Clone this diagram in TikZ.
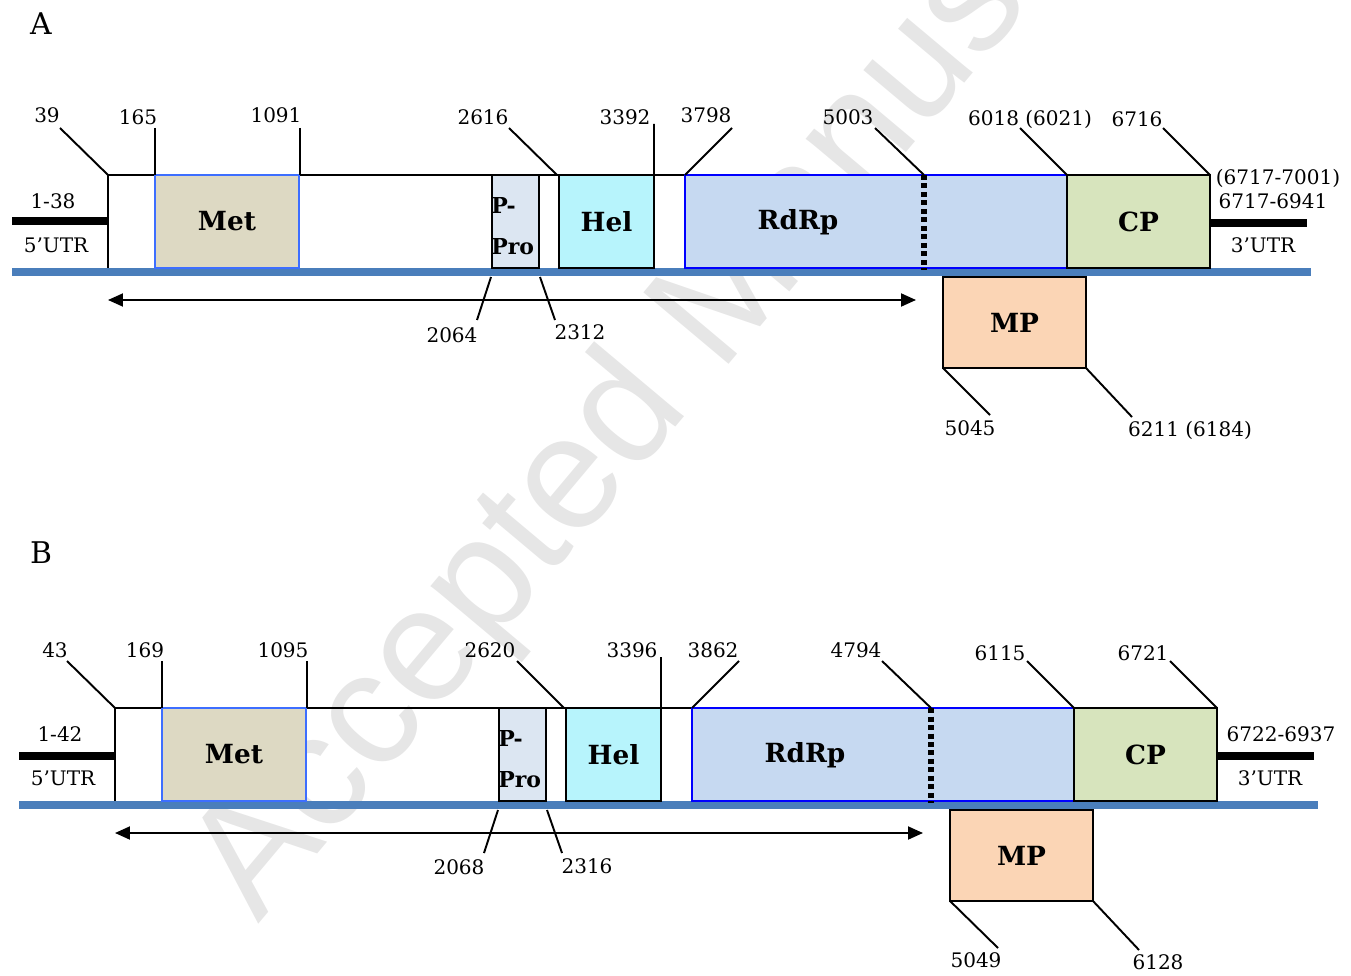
\documentclass[tikz,border=0pt]{standalone}
\usepackage{fontspec}
\setmainfont{DejaVu Serif}
\setsansfont{Liberation Sans}
\usepackage{tikz}
\usetikzlibrary{arrows.meta}

\definecolor{metfill}{HTML}{DDD9C3}
\definecolor{profill}{HTML}{DCE6F2}
\definecolor{helfill}{HTML}{B7F4FC}
\definecolor{rdrpfill}{HTML}{C6D9F1}
\definecolor{cpfill}{HTML}{D7E4BD}
\definecolor{mpfill}{HTML}{FBD5B5}
\definecolor{rnablue}{HTML}{4A7EBB}
\definecolor{metline}{HTML}{3D6EFF}
\definecolor{wmgray}{HTML}{E6E6E6}

\begin{document}
\begin{tikzpicture}[x=0.02cm,y=-0.02cm,
  num/.style={font=\fontsize{11.4}{13}\selectfont, inner sep=0pt},
  panel/.style={font=\fontsize{17}{17}\selectfont, inner sep=0pt},
  dom/.style={draw, line width=1.1pt, inner sep=0pt, outer sep=0pt, minimum height=1.86cm, anchor=north west, font=\bfseries\fontsize{15}{17}\selectfont},
  domtxt/.style={font=\bfseries\fontsize{15}{17}\selectfont, inner sep=0pt},
  protxt/.style={font=\bfseries\fontsize{12.5}{14}\selectfont, inner sep=0pt, anchor=west},
  tick/.style={line width=1.1pt},
  utr/.style={line width=4pt},
  rna/.style={rnablue, line width=4.5pt},
  split/.style={line width=3pt, dash pattern=on 1mm off 0.7mm},
  span/.style={line width=1.1pt, {Triangle[length=3mm,width=2.6mm]}-{Triangle[length=3mm,width=2.6mm]}}]
\useasboundingbox (0,0) rectangle (1351,976);

\begin{scope}
\clip (0,0) rectangle (1351,976);
\node[wmgray, rotate=50, anchor=base west, inner sep=0pt, font=\sffamily\fontsize{92}{92}\selectfont] (wm) at (258,925) {Accepted Manuscript};
\end{scope}

% panel A
\node[panel] (labA) at (41,24) {A};
\coordinate (fA) at (108,175);
\draw[tick] (108,268) -- (fA) -- (1210,175);
\draw[rna] (12,272) -- (1311,272);
\coordinate (u5A) at (12,221);
\coordinate (u3A) at (1307,223);
\node[dom, fill=metfill, draw=metline, minimum width=2.88cm] (metA) at (155,175) {Met};
\node[dom, fill=profill, minimum width=0.94cm] (proA) at (492,175) {};
\node[protxt] (proA1) at (491,205) {P-};
\node[protxt] (proA2) at (491,247) {Pro};
\node[dom, fill=helfill, minimum width=1.90cm] (helA) at (559,175) {Hel};
\node[dom, fill=rdrpfill, draw=blue, minimum width=7.64cm] (rdrpA) at (685,175) {};
\node[domtxt] (rdrpAt) at (798,222) {RdRp};
\coordinate (sp1A) at (924,175);
\coordinate (sp2A) at (924,270);
\draw[split] (sp1A) -- (sp2A);
\node[dom, fill=cpfill, minimum width=2.86cm] (cpA) at (1067,175) {CP};
\node[dom, fill=mpfill, minimum width=2.86cm, minimum height=1.82cm] (mpA) at (943,277) {MP};
\draw[utr] (u5A) -- (u5A -| fA);
\draw[utr] (cpA.east |- u3A) -- (u3A);
\node[num] (l138) at (53,201) {1-38};
\node[num] (l5A) at (56,245) {5’UTR};
\node[num] (l7001) at (1278,178) {(6717-7001)};
\node[num] (l6941) at (1273,201) {6717-6941};
\node[num] (l3A) at (1263,245) {3’UTR};
\coordinate (arA1) at (108,300);
\coordinate (arA2) at (916,300);
\draw[span] (arA1) -- (arA2);
\node[num] (n39) at (47,115) {39};
\node[num] (n165) at (138,117) {165};
\node[num] (n1091) at (276,115) {1091};
\node[num] (n2616) at (483,117) {2616};
\node[num] (n3392) at (625,117) {3392};
\node[num] (n3798) at (706,115) {3798};
\node[num] (n5003) at (848,117) {5003};
\node[num] (n6018) at (1030,119) {6018 (6021)};
\node[num] (n6716) at (1137,119) {6716};
\node[num] (n2064) at (452,335) {2064};
\node[num] (n2312) at (580,332) {2312};
\node[num] (n5045) at (970,428) {5045};
\node[num] (n6211) at (1190,430) {6211 (6184)};
\coordinate (t39) at (60,128);
\coordinate (t165) at (155,128);
\coordinate (t1091) at (300,128);
\coordinate (t2616) at (509,128);
\coordinate (t3392) at (654,124);
\coordinate (t3798) at (732,128);
\coordinate (t5003) at (875,128);
\coordinate (t6018) at (1020,128);
\coordinate (t6716) at (1163,128);
\coordinate (t2064) at (477,320);
\coordinate (t2312) at (555,320);
\coordinate (t5045) at (990,415);
\coordinate (t6211) at (1132,417);
\draw[tick] (t39) -- (fA);
\draw[tick] (t165) -- (metA.north west);
\draw[tick] (t1091) -- (300,175);
\draw[tick] (t2616) -- (557,175);
\draw[tick] (t3392) -- (helA.north east);
\draw[tick] (t3798) -- (rdrpA.north west);
\draw[tick] (t5003) -- (sp1A);
\draw[tick] (t6018) -- (cpA.north west);
\draw[tick] (t6716) -- (cpA.north east);
\draw[tick] (t2064) -- (491,277);
\draw[tick] (t2312) -- (540,277);
\draw[tick] (t5045) -- (mpA.south west);
\draw[tick] (t6211) -- (mpA.south east);

% panel B
\node[panel] (labB) at (41,553) {B};
\coordinate (fB) at (115,708);
\draw[tick] (115,801) -- (fB) -- (1217,708);
\draw[rna] (19,805) -- (1318,805);
\coordinate (u5B) at (19,756);
\coordinate (u3B) at (1314,756);
\node[dom, fill=metfill, draw=metline, minimum width=2.88cm] (metB) at (162,708) {Met};
\node[dom, fill=profill, minimum width=0.94cm] (proB) at (499,708) {};
\node[protxt] (proB1) at (498,738) {P-};
\node[protxt] (proB2) at (498,780) {Pro};
\node[dom, fill=helfill, minimum width=1.90cm] (helB) at (566,708) {Hel};
\node[dom, fill=rdrpfill, draw=blue, minimum width=7.64cm] (rdrpB) at (692,708) {};
\node[domtxt] (rdrpBt) at (805,755) {RdRp};
\coordinate (sp1B) at (931,708);
\coordinate (sp2B) at (931,803);
\draw[split] (sp1B) -- (sp2B);
\node[dom, fill=cpfill, minimum width=2.86cm] (cpB) at (1074,708) {CP};
\node[dom, fill=mpfill, minimum width=2.86cm, minimum height=1.82cm] (mpB) at (950,810) {MP};
\draw[utr] (u5B) -- (u5B -| fB);
\draw[utr] (cpB.east |- u3B) -- (u3B);
\node[num] (l142) at (60,734) {1-42};
\node[num] (l5B) at (63,778) {5’UTR};
\node[num] (l6937) at (1281,734) {6722-6937};
\node[num] (l3B) at (1270,778) {3’UTR};
\coordinate (arB1) at (115,833);
\coordinate (arB2) at (923,833);
\draw[span] (arB1) -- (arB2);
\node[num] (n43) at (55,650) {43};
\node[num] (n169) at (145,650) {169};
\node[num] (n1095) at (283,650) {1095};
\node[num] (n2620) at (490,650) {2620};
\node[num] (n3396) at (632,650) {3396};
\node[num] (n3862) at (713,650) {3862};
\node[num] (n4794) at (856,650) {4794};
\node[num] (n6115) at (1000,653) {6115};
\node[num] (n6721) at (1143,653) {6721};
\node[num] (n2068) at (459,867) {2068};
\node[num] (n2316) at (587,866) {2316};
\node[num] (n5049) at (976,960) {5049};
\node[num] (n6128) at (1158,962) {6128};
\coordinate (t43) at (67,661);
\coordinate (t169) at (162,661);
\coordinate (t1095) at (307,661);
\coordinate (t2620) at (517,661);
\coordinate (t3396) at (661,657);
\coordinate (t3862) at (739,661);
\coordinate (t4794) at (882,661);
\coordinate (t6115) at (1027,661);
\coordinate (t6721) at (1170,661);
\coordinate (t2068) at (484,853);
\coordinate (t2316) at (562,853);
\coordinate (t5049) at (998,948);
\coordinate (t6128) at (1139,950);
\draw[tick] (t43) -- (fB);
\draw[tick] (t169) -- (metB.north west);
\draw[tick] (t1095) -- (307,708);
\draw[tick] (t2620) -- (564,708);
\draw[tick] (t3396) -- (helB.north east);
\draw[tick] (t3862) -- (rdrpB.north west);
\draw[tick] (t4794) -- (sp1B);
\draw[tick] (t6115) -- (cpB.north west);
\draw[tick] (t6721) -- (cpB.north east);
\draw[tick] (t2068) -- (498,810);
\draw[tick] (t2316) -- (547,810);
\draw[tick] (t5049) -- (mpB.south west);
\draw[tick] (t6128) -- (mpB.south east);
\end{tikzpicture}
\end{document}
